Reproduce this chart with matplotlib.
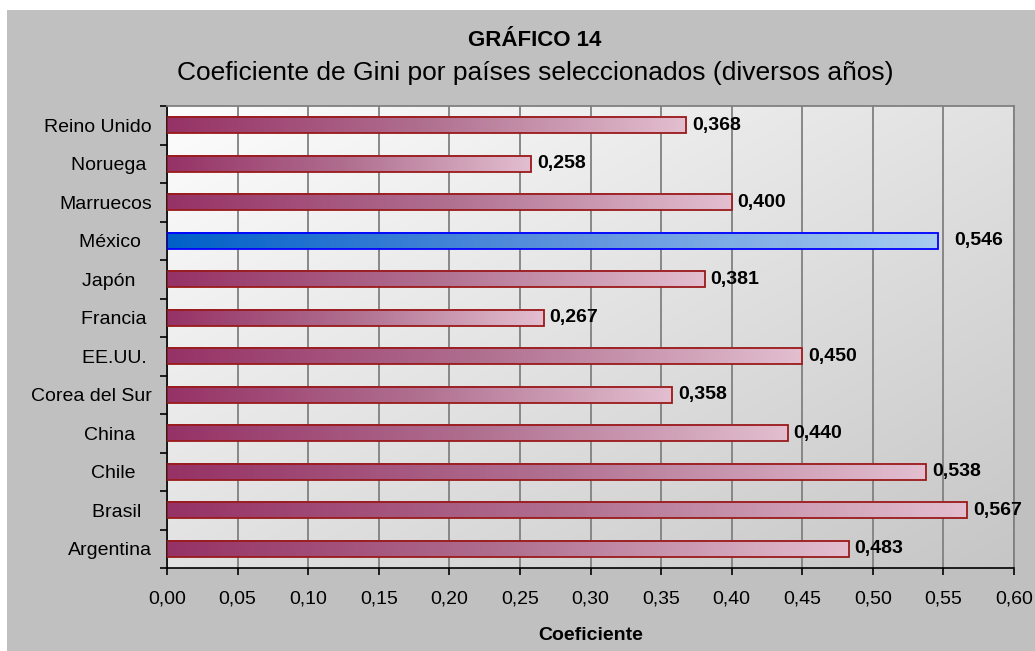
import numpy as np
import matplotlib.pyplot as plt
from matplotlib.colors import LinearSegmentedColormap
from matplotlib.patches import Rectangle

plt.rcParams['font.family'] = ['Liberation Sans', 'DejaVu Sans']

# data, bottom to top as drawn
paises = ["Argentina", "Brasil  ", "Chile   ", "China   ", "Corea del Sur",
          "EE.UU. ", "Francia ", "Japón   ", "México  ", "Marruecos",
          "Noruega ", "Reino Unido"]
gini = [0.483, 0.567, 0.538, 0.440, 0.358, 0.450, 0.267, 0.381, 0.546,
        0.400, 0.258, 0.368]
destacado = "México"
xticks = np.arange(0, 0.601, 0.05)

W, H = 1035, 651
fig = plt.figure(figsize=(W / 100, H / 100), dpi=100, facecolor="white")
# grey chart area (white strip left and top like the original)
fig.patches.append(Rectangle((7 / W, 0), 1, 1 - 10 / H, transform=fig.transFigure,
                             facecolor="#c0c0c0", edgecolor="none", zorder=-10))

ax = fig.add_axes([167 / W, 1 - 568 / H, (1014 - 167) / W, (568 - 106) / H])

# plot area background: light diagonal gradient, lightest top-left
gx, gy = np.meshgrid(np.linspace(0, 1, 200), np.linspace(0, 1, 200))
ax.imshow((gx + (1 - gy)) / 2, extent=(0, 0.6, -0.5, 11.5), origin="lower",
          aspect="auto",
          cmap=LinearSegmentedColormap.from_list("bg", ["#fdfdfd", "#c6c6c6"]),
          zorder=0)

rosa = LinearSegmentedColormap.from_list("rosa", ["#963266", "#b07090", "#e3bfd0"])
azul = LinearSegmentedColormap.from_list("azul", ["#0060c8", "#5a90dc", "#a8ccf0"])
grad = np.linspace(0, 1, 256)[np.newaxis, :]

h = 0.42
for i, (p, v) in enumerate(zip(paises, gini)):
    es_mx = p.strip() == destacado
    ax.imshow(grad, extent=(0, v, i - h / 2, i + h / 2), aspect="auto",
              cmap=azul if es_mx else rosa, zorder=2)
    ax.barh(i, v, height=h, facecolor="none",
            edgecolor="#0000ff" if es_mx else "#9a1a1a", linewidth=1.3, zorder=3)
    ax.annotate(f"{v:.3f}".replace(".", ","), (v, i), xytext=(12 if es_mx else 4, 0),
                textcoords="offset points", va="center", ha="left",
                fontsize=14, fontweight="bold", zorder=4)

ax.set_xlim(0, 0.6)
ax.set_ylim(-0.5, 11.5)

ax.set_xticks(xticks)
ax.set_xticklabels([f"{x:.2f}".replace(".", ",") for x in xticks], fontsize=14)
ax.tick_params(axis="x", direction="out", length=5, width=1.2, pad=11)
ax.xaxis.grid(True, color="#808080", linewidth=1.3)
ax.set_axisbelow(True)

ax.set_yticks(np.arange(-0.5, 12, 1))
ax.set_yticklabels([])
ax.set_yticks(range(len(paises)), minor=True)
ax.set_yticklabels(paises, minor=True, fontsize=14)
ax.tick_params(axis="y", which="major", direction="out", length=5, width=1.2)
ax.tick_params(axis="y", which="minor", length=0, pad=11)

for s in ["top", "right"]:
    ax.spines[s].set_color("#808080")
    ax.spines[s].set_linewidth(1.3)
for s in ["left", "bottom"]:
    ax.spines[s].set_color("black")
    ax.spines[s].set_linewidth(1.2)

ax.set_xlabel("Coeficiente", fontsize=14, fontweight="bold", labelpad=14)

fig.text(535 / W, 1 - 41 / H, "GRÁFICO 14", ha="center", va="center",
         fontsize=16, fontweight="bold")
fig.text(535 / W, 1 - 73 / H, "Coeficiente de Gini por países seleccionados (diversos años)",
         ha="center", va="center", fontsize=19)

fig.savefig("out.png", dpi=100, facecolor="white")
